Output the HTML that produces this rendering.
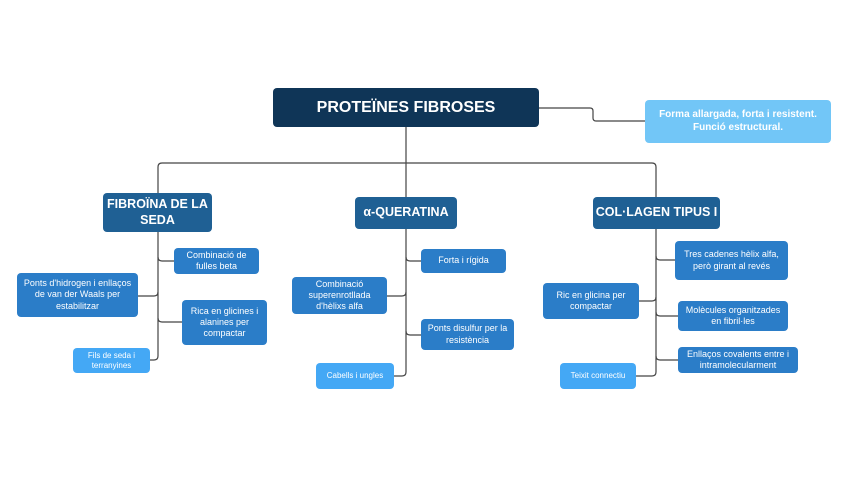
<!DOCTYPE html>
<html><head><meta charset="utf-8"><style>
body{margin:0;width:848px;height:477px;background:#fff;position:relative;overflow:hidden;font-family:"Liberation Sans",sans-serif}
.b{position:absolute;display:flex;align-items:center;justify-content:center;text-align:center;color:#fff;border-radius:4px;box-sizing:border-box;line-height:1.25}
.root{background:#0f3557;font-weight:bold;font-size:16px}
.br{background:#1f6094;font-weight:bold;font-size:12.5px}
.lf{background:#2b7dc8;font-size:9px;padding:0 4px}
.lt{background:#44a8f5;font-size:8px;padding:0 4px}
.note{background:#72c6f7;font-weight:bold;font-size:10px}
svg{position:absolute;left:0;top:0}
</style></head><body>
<svg width="848" height="477" fill="none" stroke="#444" stroke-width="1.2">
<path d="M539 108 H590 Q593 108 593 111 V118 Q593 121 596 121 H645"/>
<path d="M406 127 V163"/>
<path d="M158 193 V167 Q158 163 162 163 H652 Q656 163 656 167 V197"/>
<path d="M406 163 V197"/>
<path d="M158 232 V356 Q158 360 154 360 H150"/>
<path d="M158 257 Q158 261 162 261 H174"/>
<path d="M138 296 H154 Q158 296 158 292"/>
<path d="M158 318 Q158 322 162 322 H182"/>
<path d="M406 229 V372 Q406 376 402 376 H394"/>
<path d="M406 257 Q406 261 410 261 H421"/>
<path d="M387 296 H402 Q406 296 406 292"/>
<path d="M406 331 Q406 335 410 335 H421"/>
<path d="M656 229 V372 Q656 376 652 376 H636"/>
<path d="M656 256 Q656 260 660 260 H675"/>
<path d="M639 301 H652 Q656 301 656 297"/>
<path d="M656 312 Q656 316 660 316 H678"/>
<path d="M656 356 Q656 360 660 360 H678"/>
</svg>
<div class="b root" style="left:273px;top:88px;width:266px;height:39px">PROTEÏNES FIBROSES</div>
<div class="b note" style="left:645px;top:100px;width:186px;height:43px">Forma allargada, forta i resistent.<br>Funció estructural.</div>
<div class="b br" style="left:103px;top:193px;width:109px;height:39px">FIBROÏNA DE LA<br>SEDA</div>
<div class="b br" style="left:355px;top:197px;width:102px;height:32px">α-QUERATINA</div>
<div class="b br" style="left:593px;top:197px;width:127px;height:32px">COL·LAGEN TIPUS I</div>
<div class="b lf" style="left:174px;top:248px;width:85px;height:26px">Combinació de fulles beta</div>
<div class="b lf" style="left:17px;top:273px;width:121px;height:44px">Ponts d'hidrogen i enllaços de van der Waals per estabilitzar</div>
<div class="b lf" style="left:182px;top:300px;width:85px;height:45px">Rica en glicines i alanines per compactar</div>
<div class="b lt" style="left:73px;top:348px;width:77px;height:25px">Fils de seda i terranyines</div>
<div class="b lf" style="left:421px;top:249px;width:85px;height:24px">Forta i rígida</div>
<div class="b lf" style="left:292px;top:277px;width:95px;height:37px">Combinació superenrotllada d'hèlixs alfa</div>
<div class="b lf" style="left:421px;top:319px;width:93px;height:31px">Ponts disulfur per la resistència</div>
<div class="b lt" style="left:316px;top:363px;width:78px;height:26px">Cabells i ungles</div>
<div class="b lf" style="left:675px;top:241px;width:113px;height:39px">Tres cadenes hèlix alfa, però girant al revés</div>
<div class="b lf" style="left:543px;top:283px;width:96px;height:36px">Ric en glicina per compactar</div>
<div class="b lf" style="left:678px;top:301px;width:110px;height:30px">Molècules organitzades en fibril·les</div>
<div class="b lf" style="left:678px;top:347px;width:120px;height:26px">Enllaços covalents entre i intramolecularment</div>
<div class="b lt" style="left:560px;top:363px;width:76px;height:26px">Teixit connectiu</div>
</body></html>
